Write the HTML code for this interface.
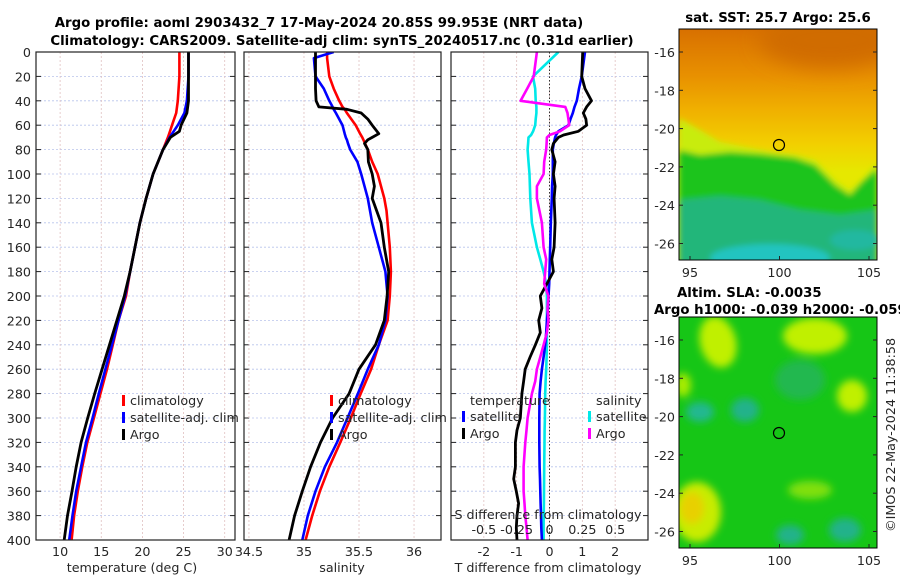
<!DOCTYPE html>
<html><head><meta charset="utf-8">
<style>
html,body{margin:0;padding:0;background:#fff;}
svg{display:block;font-family:"DejaVu Sans","Liberation Sans",sans-serif;}
.t{font-size:12.7px;fill:#262626;}
.b{font-size:13.3px;font-weight:bold;fill:#000;}
</style></head>
<body>
<svg id="fig" width="900" height="580" viewBox="0 0 900 580">
<defs>
<filter id="blur3" x="-20%" y="-20%" width="140%" height="140%"><feGaussianBlur stdDeviation="3"/></filter>
<filter id="blur6" x="-50%" y="-50%" width="200%" height="200%"><feGaussianBlur stdDeviation="4"/></filter>
<filter id="blur10" x="-50%" y="-50%" width="200%" height="200%"><feGaussianBlur stdDeviation="10"/></filter>
<linearGradient id="sstg" x1="0" y1="0" x2="0" y2="1">
<stop offset="0" stop-color="#d87000"/><stop offset="0.2" stop-color="#e89000"/><stop offset="0.35" stop-color="#f0b000"/><stop offset="0.5" stop-color="#f2d000"/><stop offset="0.62" stop-color="#e6e800"/><stop offset="1" stop-color="#e6e800"/>
</linearGradient>
<clipPath id="cTop"><rect x="679" y="29" width="198" height="231"/></clipPath>
<clipPath id="cBot"><rect x="679" y="317" width="198" height="231"/></clipPath>
<clipPath id="cP1"><rect x="36" y="52" width="199" height="488"/></clipPath>
<clipPath id="cP2"><rect x="244" y="52" width="197" height="488"/></clipPath>
<clipPath id="cP3"><rect x="451" y="52" width="197" height="488"/></clipPath>
</defs>
<text class="b" x="319" y="27" text-anchor="middle">Argo profile: aoml 2903432_7 17-May-2024 20.85S 99.953E (NRT data)</text>
<text class="b" x="342" y="45" text-anchor="middle">Climatology: CARS2009. Satellite-adj clim: synTS_20240517.nc (0.31d earlier)</text>

<!-- SST map -->
<g>
<g clip-path="url(#cTop)">
<rect x="679" y="29" width="198" height="231" fill="url(#sstg)"/>
<g filter="url(#blur10)">
<ellipse cx="830" cy="40" rx="70" ry="28" fill="#d06c00"/>
</g>
<g filter="url(#blur3)">
<polygon points="679,118 700,130 720,142 745,147 770,152 795,155 815,160 835,180 850,190 862,180 877,162 877,270 679,270" fill="#c8ec10"/>
<polygon points="679,150 700,155 730,152 760,154 795,158 815,165 835,185 850,195 862,182 877,168 877,270 679,270" fill="#1cc41c"/>
<polygon points="679,200 720,196 760,200 800,210 840,215 877,210 877,270 679,270" fill="#22b67a"/>
<ellipse cx="770" cy="258" rx="60" ry="14" fill="#20c4c0"/>
<ellipse cx="855" cy="240" rx="25" ry="10" fill="#20b8a0"/>
</g>
</g>
<rect x="679" y="29" width="198" height="231" fill="none" stroke="#000" stroke-width="1"/>
<circle cx="779" cy="145" r="5.5" fill="none" stroke="#000" stroke-width="1.2"/>
</g>
<text class="b" x="778" y="22" text-anchor="middle">sat. SST: 25.7 Argo: 25.6</text>

<!-- SLA map -->
<g>
<g clip-path="url(#cBot)">
<rect x="679" y="317" width="198" height="231" fill="#16c616"/>
<g filter="url(#blur6)">
<ellipse cx="718" cy="342" rx="18" ry="26" fill="#c0f000" transform="rotate(-15 718 342)"/>
<ellipse cx="815" cy="336" rx="32" ry="18" fill="#c0f000"/>
<ellipse cx="852" cy="396" rx="15" ry="16" fill="#c0f000"/>
<ellipse cx="697" cy="512" rx="24" ry="30" fill="#c8ec00"/>
<ellipse cx="692" cy="508" rx="12" ry="16" fill="#e8d000"/>
<ellipse cx="683" cy="385" rx="8" ry="12" fill="#a8ec00"/>
<ellipse cx="810" cy="490" rx="22" ry="9" fill="#80e010"/>
<ellipse cx="745" cy="410" rx="14" ry="12" fill="#24b28a"/>
<ellipse cx="700" cy="412" rx="14" ry="10" fill="#24b890"/>
<ellipse cx="790" cy="535" rx="14" ry="10" fill="#24b28a"/>
<ellipse cx="845" cy="530" rx="16" ry="12" fill="#24b28a"/>
<ellipse cx="800" cy="380" rx="25" ry="20" fill="#20b850"/>
</g>
</g>
<rect x="679" y="317" width="198" height="231" fill="none" stroke="#000" stroke-width="1"/>
<circle cx="779" cy="433" r="5.5" fill="none" stroke="#000" stroke-width="1.2"/>
</g>
<text class="b" x="677" y="297">Altim. SLA: -0.0035</text>
<text class="b" x="654" y="314">Argo h1000: -0.039 h2000: -0.059</text>
<text class="t" x="0" y="0" transform="translate(895 435) rotate(-90)" text-anchor="middle">©IMOS 22-May-2024 11:38:58</text>

<g id="plots"></g>
</svg>
<script>
// ---------- data ----------
const depthsT = [0,20,40,50,60,65,70,80,100,120,140,160,180,200,220,240,260,280,300,320,340,360,380,400];
const tempClim = [24.5,24.5,24.3,24.1,23.6,23.35,23.1,22.5,21.3,20.45,19.7,19.1,18.5,18.0,17.1,16.4,15.7,14.9,14.1,13.3,12.7,12.15,11.7,11.4];
const tempSat  = [25.6,25.6,25.4,25.1,24.3,23.8,23.3,22.5,21.3,20.45,19.7,19.1,18.5,17.9,17.1,16.3,15.5,14.7,13.95,13.15,12.55,11.95,11.5,11.1];
const tempArgo = [25.6,25.6,25.6,25.4,24.7,24.5,23.4,22.5,21.3,20.45,19.7,19.1,18.5,17.8,16.9,16.0,15.1,14.2,13.35,12.55,11.95,11.45,10.9,10.5];

const depthsS = [0,5,20,30,40,45,47,50,55,60,67,70,72,75,80,90,100,110,120,130,140,160,180,200,220,240,260,280,300,320,340,360,380,400];
const salClim = [35.21,35.21,35.23,35.27,35.32,35.35,35.37,35.39,35.43,35.47,35.51,35.53,35.54,35.555,35.58,35.62,35.67,35.70,35.73,35.75,35.76,35.78,35.79,35.78,35.76,35.68,35.61,35.515,35.425,35.33,35.23,35.145,35.075,35.015];
const salSat  = [35.27,35.09,35.105,35.18,35.23,35.26,35.27,35.29,35.32,35.35,35.37,35.38,35.39,35.40,35.42,35.485,35.52,35.55,35.58,35.60,35.62,35.68,35.74,35.76,35.74,35.68,35.58,35.49,35.395,35.30,35.19,35.105,35.035,34.985];
const salArgo = [35.105,35.105,35.105,35.105,35.11,35.136,35.39,35.52,35.58,35.62,35.68,35.62,35.58,35.55,35.58,35.585,35.62,35.64,35.62,35.66,35.70,35.73,35.77,35.755,35.73,35.65,35.5,35.41,35.26,35.15,35.06,34.985,34.915,34.865];

const depthsD = [0,20,30,40,45,50,55,60,65,68,70,75,80,90,100,110,120,140,160,170,180,190,200,210,220,230,240,250,260,270,280,300,310,320,340,350,360,370,380,390,400];
const dTSat  = [1.08,0.98,0.9,0.83,0.76,0.71,0.64,0.58,0.27,0.2,0.17,0.13,0.10,0.10,0.10,0.08,0.07,0.04,0.02,0.01,0,-0.01,-0.03,-0.05,-0.08,-0.1,-0.13,-0.18,-0.23,-0.27,-0.30,-0.31,-0.31,-0.31,-0.30,-0.29,-0.28,-0.27,-0.26,-0.25,-0.23];
const dTArgo = [1.01,0.98,1.08,1.28,1.13,1.03,1.11,1.13,0.88,0.43,0.27,0.12,0.07,0.17,0.12,0.17,0.14,0.17,0.14,0.07,0.12,-0.08,-0.28,-0.23,-0.33,-0.28,-0.43,-0.59,-0.74,-0.79,-0.84,-0.89,-0.99,-1.04,-1.04,-1.09,-1.01,-0.94,-0.99,-1.01,-0.99];
const dSSat  = [0.068,-0.126,-0.109,-0.105,-0.10,-0.10,-0.105,-0.109,-0.125,-0.14,-0.16,-0.163,-0.167,-0.16,-0.152,-0.149,-0.146,-0.134,-0.096,-0.07,-0.045,-0.025,-0.02,-0.02,-0.02,-0.02,-0.02,-0.022,-0.025,-0.03,-0.033,-0.035,-0.037,-0.038,-0.04,-0.041,-0.042,-0.043,-0.044,-0.045,-0.045];
const dSArgo = [-0.096,-0.12,-0.17,-0.22,0.12,0.137,0.144,0.15,0.08,0.0,-0.02,-0.022,-0.025,-0.04,-0.045,-0.096,-0.096,-0.058,-0.045,-0.025,-0.033,-0.04,-0.008,-0.015,-0.008,-0.02,-0.045,-0.07,-0.096,-0.109,-0.134,-0.167,-0.175,-0.184,-0.197,-0.197,-0.197,-0.19,-0.184,-0.175,-0.167];

const depthTicks = [0,20,40,60,80,100,120,140,160,180,200,220,240,260,280,300,320,340,360,380,400];
const tempTicks = [10,15,20,25,30];
const salTicks = [34.5,35,35.5,36];
const salTickLabels = ["34.5","35","35.5","36"];
const dTTicks = [-2,-1,0,1,2];
const dSTicks = [-0.5,-0.25,0,0.25,0.5];
const dSTickLabels = ["-0.5","-0.25","0","0.25","0.5"];

// ---------- scales ----------
const Y0 = 52, Y1 = 540;
const yD = d => Y0 + (d/400)*(Y1-Y0);
const panels = {
  p1:{x0:36,x1:235,v0:7.07,v1:31.25},
  p2:{x0:244,x1:441,v0:34.455,v1:36.245},
  p3:{x0:451,x1:648,v0:-3.0,v1:3.0}
};
const sx = (p,v)=> p.x0 + (v-p.v0)/(p.v1-p.v0)*(p.x1-p.x0);
const xT = v=>sx(panels.p1,v), xS=v=>sx(panels.p2,v), xDT=v=>sx(panels.p3,v);
const xDS = v=>sx(panels.p3, v*4);

const NS="http://www.w3.org/2000/svg";
const root=document.getElementById('plots');
function mk(tag,attrs,parent){const e=document.createElementNS(NS,tag);for(const k in attrs)e.setAttribute(k,attrs[k]);(parent||root).appendChild(e);return e;}

function grid(p,xticks,g){
  depthTicks.forEach(d=>{
    const l=mk('line',{x1:p.x0,x2:p.x1,y1:yD(d),y2:yD(d),stroke:'#b8c4ec','stroke-width':0.8,'stroke-dasharray':'2,2'},g);
    
    
    mk('line',{x1:p.x0,x2:p.x0+5,y1:yD(d),y2:yD(d),stroke:'#222','stroke-width':1},g);
    mk('line',{x1:p.x1-5,x2:p.x1,y1:yD(d),y2:yD(d),stroke:'#222','stroke-width':1},g);
  });
  xticks.forEach(x=>{
    const l=mk('line',{x1:x,x2:x,y1:Y0,y2:Y1,stroke:'#e0c0c0','stroke-width':0.8,'stroke-dasharray':'2,2'},g);
    
    
  });
}
function line(p,xf,vals,depths,color,name,g,w){
  const pts=vals.map((v,i)=>xf(v).toFixed(1)+','+yD(depths[i]).toFixed(1)).join(' ');
  const pl=mk('polyline',{points:pts,fill:'none',stroke:color,'stroke-width':w||2.6,'stroke-linejoin':'round'},g);
  
  
}
function frame(p,g){
  const r=mk('rect',{x:p.x0,y:Y0,width:p.x1-p.x0,height:Y1-Y0,fill:'none',stroke:'#222','stroke-width':1.2},g);
  
  
}
function txt(s,x,y,anchor,g,name){
  const t=mk('text',{x:x,y:y,'text-anchor':anchor||'start','class':'t'},g);
  t.textContent=s;
  
  
  return t;
}
function legendBar(x,y,color,g,name){
  const r=mk('rect',{x:x,y:y-10,width:3,height:11,fill:color},g);
  
  
}

// ---------- panel 1: temperature ----------
const g1=mk('g',{});


grid(panels.p1,tempTicks.map(xT),g1);
const c1=mk('g',{'clip-path':'url(#cP1)'},g1);
line(panels.p1,xT,tempClim,depthsT,'#ff0000','temperature-climatology-line',c1);
line(panels.p1,xT,tempSat,depthsT,'#0000ff','temperature-satellite-line',c1);
line(panels.p1,xT,tempArgo,depthsT,'#000000','temperature-argo-line',c1,2.8);
frame(panels.p1,g1);
depthTicks.forEach(d=>txt(String(d),31,yD(d)+5,'end',g1,'depth-tick-label'));
tempTicks.forEach(v=>txt(String(v),xT(v),556,'middle',g1,'temperature-tick-label'));
txt('temperature (deg C)',132,572,'middle',g1,'temperature-axis-title');
[['climatology','#ff0000'],['satellite-adj. clim','#0000ff'],['Argo','#000000']].forEach((e,i)=>{
  legendBar(122,405+i*17,e[1],g1,'legend-marker');
  txt(e[0],130,405+i*17,'start',g1,'legend-entry');
});

// ---------- panel 2: salinity ----------
const g2=mk('g',{});


grid(panels.p2,salTicks.map(xS),g2);
const c2=mk('g',{'clip-path':'url(#cP2)'},g2);
line(panels.p2,xS,salClim,depthsS,'#ff0000','salinity-climatology-line',c2);
line(panels.p2,xS,salSat,depthsS,'#0000ff','salinity-satellite-line',c2);
line(panels.p2,xS,salArgo,depthsS,'#000000','salinity-argo-line',c2,2.8);
frame(panels.p2,g2);
salTicks.forEach((v,i)=>txt(salTickLabels[i],xS(v),556,'middle',g2,'salinity-tick-label'));
txt('salinity',342,572,'middle',g2,'salinity-axis-title');
[['climatology','#ff0000'],['satellite-adj. clim','#0000ff'],['Argo','#000000']].forEach((e,i)=>{
  legendBar(330,405+i*17,e[1],g2,'legend-marker');
  txt(e[0],338,405+i*17,'start',g2,'legend-entry');
});

// ---------- panel 3: differences ----------
const g3=mk('g',{});


grid(panels.p3,dTTicks.map(xDT),g3);
const c3=mk('g',{'clip-path':'url(#cP3)'},g3);
const z=mk('line',{x1:xDT(0),x2:xDT(0),y1:Y0,y2:Y1,stroke:'#333','stroke-width':1,'stroke-dasharray':'1.5,2'},c3);


line(panels.p3,xDS,dSSat,depthsD,'#00e8e8','salinity-satellite-diff-line',c3);
line(panels.p3,xDT,dTSat,depthsD,'#0000ff','temperature-satellite-diff-line',c3);
line(panels.p3,xDT,dTArgo,depthsD,'#000000','temperature-argo-diff-line',c3,2.8);
line(panels.p3,xDS,dSArgo,depthsD,'#ff00ff','salinity-argo-diff-line',c3);
frame(panels.p3,g3);
dTTicks.forEach(v=>txt(String(v),xDT(v),556,'middle',g3,'t-diff-tick-label'));
txt('T difference from climatology',548,572,'middle',g3,'t-diff-axis-title');
txt('S difference from climatology',548,519,'middle',g3,'s-diff-axis-title');
dSTicks.forEach((v,i)=>txt(dSTickLabels[i],xDS(v),534,'middle',g3,'s-diff-tick-label'));
txt('temperature',470,405,'start',g3,'legend-title-temperature');
txt('salinity',596,405,'start',g3,'legend-title-salinity');
legendBar(462,421,'#0000ff',g3,'legend-marker');
txt('satellite',470,421,'start',g3,'legend-entry');
legendBar(462,438,'#000000',g3,'legend-marker');
txt('Argo',470,438,'start',g3,'legend-entry');
legendBar(588,421,'#00e8e8',g3,'legend-marker');
txt('satellite',596,421,'start',g3,'legend-entry');
legendBar(588,438,'#ff00ff',g3,'legend-marker');
txt('Argo',596,438,'start',g3,'legend-entry');

// ---------- map axes ----------
const lonTicks=[95,100,105];
const latTicks=[-16,-18,-20,-22,-24,-26];
const xLon=v=>690+(v-95)*17.9;
function mapAxes(top,lat16,name){
  const g=mk('g',{});
  
  
  latTicks.forEach(v=>{
    const y=lat16+(-16-v)*19.15;
    mk('line',{x1:679,x2:683,y1:y,y2:y,stroke:'#222'},g);
    mk('line',{x1:873,x2:877,y1:y,y2:y,stroke:'#222'},g);
    txt(String(v),675,y+5,'end',g,'latitude-tick-label');
  });
  lonTicks.forEach(v=>{
    mk('line',{x1:xLon(v),x2:xLon(v),y1:top+227,y2:top+231,stroke:'#222'},g);
    txt(String(v),xLon(v),top+248,'middle',g,'longitude-tick-label');
  });
}
mapAxes(29,52,'sst-map-axes');
mapAxes(317,340,'sla-map-axes');
</script>
</body></html>
